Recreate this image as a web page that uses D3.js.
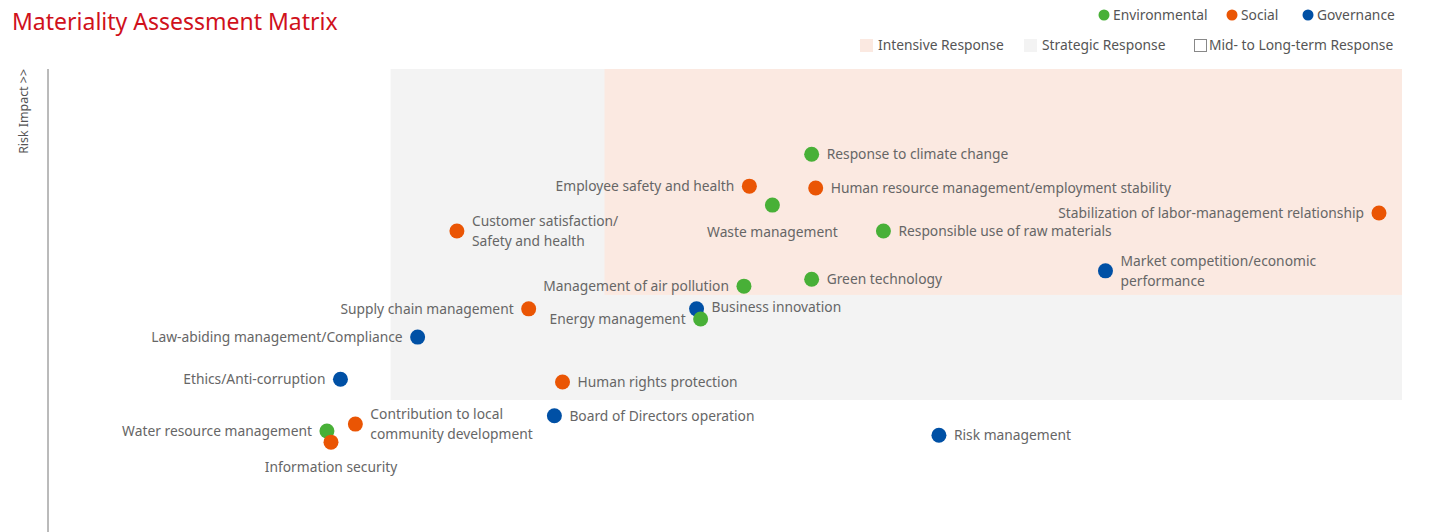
<!DOCTYPE html>
<html>
<head>
<meta charset="utf-8">
<script src="https://cdn.jsdelivr.net/npm/d3@7"></script>
<style>
  body { margin: 0; background: #fff; }
  svg { display: block; }
</style>
</head>
<body>
<svg id="chart"></svg>
<script>
// issues and their scores (0-100, x = business impact, y = risk impact)
const issues = [
  'Response to climate change', 'Employee safety and health',
  'Human resource management/employment stability', 'Waste management',
  'Stabilization of labor-management relationship', 'Customer satisfaction/\nSafety and health',
  'Responsible use of raw materials', 'Management of air pollution', 'Green technology',
  'Market competition/economic\nperformance', 'Supply chain management', 'Business innovation',
  'Energy management', 'Law-abiding management/Compliance', 'Ethics/Anti-corruption',
  'Human rights protection', 'Contribution to local\ncommunity development',
  'Board of Directors operation', 'Water resource management', 'Information security',
  'Risk management'
]
const categories = ['Environmental', 'Social', 'Social', 'Environmental', 'Social', 'Social',
  'Environmental', 'Environmental', 'Environmental', 'Governance', 'Social', 'Governance',
  'Environmental', 'Governance', 'Governance', 'Social', 'Social', 'Governance',
  'Environmental', 'Social', 'Governance']
const xValues = [56.4, 51.8, 56.7, 53.5, 98.3, 30.2, 61.7, 51.4, 56.4, 78.1, 35.5, 47.9,
  48.2, 27.3, 21.6, 38.0, 22.7, 37.4, 20.6, 20.9, 65.8]
const yValues = [81.6, 74.7, 74.3, 70.6, 68.9, 65.0, 65.0, 53.1, 54.6, 56.4, 48.2, 48.2,
  46.0, 42.1, 33.0, 32.4, 23.3, 25.1, 21.8, 19.4, 20.9]
// label side for each issue
const labelSide = ['right', 'left', 'right', 'below', 'left', 'right', 'right', 'left', 'right',
  'right', 'left', 'right', 'left', 'left', 'left', 'right', 'right', 'right', 'left', 'below',
  'right']

// response zones: [x0, x1, y0, y1]
const zoneNames = ['Strategic Response', 'Intensive Response']
const zoneX = [[25.3, 100], [41.1, 100]]
const zoneY = [[28.5, 100], [51.2, 100]]

const width = 1432
const height = 532
const margin = { top: 69, right: 30, bottom: 0, left: 48 }
const fontSize = 13.8

const colorScale = d3.scaleOrdinal()
  .domain(['Environmental', 'Social', 'Governance'])
  .range(['#48b037', '#ea5504', '#0050a5'])
const zoneColor = d3.scaleOrdinal()
  .domain(['Intensive Response', 'Strategic Response', 'Mid- to Long-term Response'])
  .range(['#fbe9e1', '#f3f3f3', '#ffffff'])

const x = d3.scaleLinear().domain([0, 100]).range([margin.left, width - margin.right])
const y = d3.scaleLinear().domain([0, 100]).range([height - margin.bottom, margin.top])

const svg = d3.select('#chart')
  .attr('width', width)
  .attr('height', height)
  .attr('font-family', '"Noto Sans", sans-serif')

// zones
svg.append('g')
  .selectAll('rect')
  .data(zoneNames)
  .join('rect')
  .attr('x', (d, i) => x(zoneX[i][0]))
  .attr('y', (d, i) => y(zoneY[i][1]))
  .attr('width', (d, i) => x(zoneX[i][1]) - x(zoneX[i][0]))
  .attr('height', (d, i) => y(zoneY[i][0]) - y(zoneY[i][1]))
  .attr('fill', (d) => zoneColor(d))

// y axis line
svg.append('line')
  .attr('x1', x(0)).attr('x2', x(0))
  .attr('y1', y(100)).attr('y2', y(0))
  .attr('stroke', '#777')
  .attr('stroke-width', 1)

svg.append('text')
  .attr('transform', `translate(28,${y(100)}) rotate(-90)`)
  .attr('text-anchor', 'end')
  .attr('font-size', 12.4)
  .attr('fill', '#555')
  .text('Risk Impact >>')

// title
svg.append('text')
  .attr('x', 12).attr('y', 30)
  .attr('font-size', 23)
  .attr('fill', '#d0111b')
  .text('Materiality Assessment Matrix')

// points
const data = issues.map((name, i) => ({
  name, cat: categories[i], x: xValues[i], y: yValues[i], side: labelSide[i]
}))

const pts = svg.append('g')
  .selectAll('g')
  .data(data)
  .join('g')
  .attr('transform', (d) => `translate(${x(d.x)},${y(d.y)})`)

pts.append('circle')
  .attr('r', 7.5)
  .attr('fill', (d) => colorScale(d.cat))

const lbl = pts.append('text')
  .attr('font-size', fontSize)
  .attr('fill', '#666')
  .attr('text-anchor', (d) => d.side === 'left' ? 'end' : d.side === 'right' ? 'start' : 'middle')
  .attr('x', (d) => d.side === 'left' ? -15 : d.side === 'right' ? 15 : 0)
  .attr('y', (d) => {
    const n = d.name.split('\n').length
    if (d.side === 'below') return d.name === 'Waste management' ? 27 : 25
    if (d.name === 'Business innovation') return -2
    return -(n - 1) * 10
  })

lbl.selectAll('tspan')
  .data((d) => d.name.split('\n'))
  .join('tspan')
  .attr('x', function () { return d3.select(this.parentNode).attr('x') })
  .attr('dy', (d, i) => i === 0 ? '0.35em' : 20)
  .text((d) => d)

// legend: categories
const catLegend = svg.append('g').attr('font-size', fontSize).attr('fill', '#555')
const catX = [1098, 1226, 1302]
catLegend.selectAll('g')
  .data(colorScale.domain())
  .join('g')
  .attr('transform', (d, i) => `translate(${catX[i]},15)`)
  .call((g) => {
    g.append('circle').attr('cx', 6).attr('r', 5.5).attr('fill', (d) => colorScale(d))
    g.append('text').attr('x', 15).attr('dy', '0.35em').text((d) => d)
  })

// legend: zones
const zoneLegend = svg.append('g').attr('font-size', fontSize).attr('fill', '#555')
const zoneLx = [860, 1024, 1194]
zoneLegend.selectAll('g')
  .data(zoneColor.domain())
  .join('g')
  .attr('transform', (d, i) => `translate(${zoneLx[i]},45)`)
  .call((g) => {
    g.append('rect')
      .attr('x', (d, i) => i === 2 ? 0.5 : 0)
      .attr('y', (d, i) => i === 2 ? -5.5 : -6)
      .attr('width', (d, i) => i === 2 ? 12 : 13)
      .attr('height', (d, i) => i === 2 ? 12 : 13)
      .attr('fill', (d) => zoneColor(d))
      .attr('stroke', (d, i) => i === 2 ? '#888' : 'none')
    g.append('text')
      .attr('x', (d, i) => i === 2 ? 15 : 18)
      .attr('dy', '0.35em')
      .text((d) => d)
  })
</script>
</body>
</html>
